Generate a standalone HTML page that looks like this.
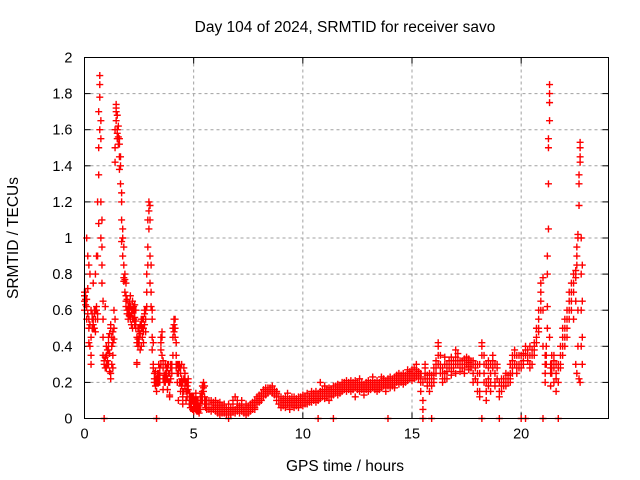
<!DOCTYPE html>
<html><head><meta charset="utf-8"><style>
body{margin:0;background:#fff}
svg{display:block;font-family:"Liberation Sans",sans-serif}
</style></head><body>
<svg id="chart" width="640" height="480" viewBox="0 0 640 480">
<rect width="640" height="480" fill="#fff"/>
<text x="345" y="32" font-size="15.5" text-anchor="middle">Day 104 of 2024, SRMTID for receiver savo</text>
<g id="grid"></g>
<g id="axes"></g>
<g id="marks"></g>
<rect x="84.5" y="57.5" width="524" height="361" fill="none" stroke="#000" stroke-width="1"/>
<text x="345" y="471" font-size="15.5" text-anchor="middle">GPS time / hours</text>
<text x="18" y="238" font-size="15.5" text-anchor="middle" transform="rotate(-90 18 238)">SRMTID / TECUs</text>
</svg>
<script>
const xTicks=[0,5,10,15,20];
const yTicks=[0,0.2,0.4,0.6,0.8,1,1.2,1.4,1.6,1.8,2];
const yTickLabels=["0","0.2","0.4","0.6","0.8","1","1.2","1.4","1.6","1.8","2"];
// rows: [hour, values...]
const points=[
[0.0,.68,.70,.65,.60],[0.05,.7,.66,.63],[0.1,.66,.62,1.0,.55],[0.15,.58,.72,.9],[0.2,.55,.85,.42,.50],[0.25,.4,.52,.8],[0.3,.35,.45,.30,.60],[0.35,.5,.55,.58],
[0.4,.52,.55,.75,.50],[0.45,.58,.6,.5],[0.5,.55,.60,.48,.80],[0.55,.6,.62,.9],[0.6,.58,.90,1.2,.55],[0.65,1.35,1.5,1.7,1.08],[0.7,1.85,1.9,1.78,1.6],[0.75,1.65,1.55,1.2,1.0],
[0.8,1.1,.95,.85,.75],[0.85,.65,.55,.45,.35],[0.9,.30,.32,0],[0.95,.34,.28,.62],[1.0,.30,.35,.28,.40],[1.05,.32,.38,.3],[1.1,.38,.42,.45,.30],[1.15,.36,.26,.47],[1.2,.22,.25,.50,.52],[1.25,.45,.3,.4],[1.3,.48,.42,.35,.28],[1.35,.5,.6,.44],
[1.4,1.42,.55,1.5,1.6],[1.45,1.7,1.74,1.65,1.72],[1.5,1.6,1.55,1.58,1.68],[1.55,1.56,1.52,1.62],[1.6,1.52,1.55,1.45,1.38],[1.65,1.3,1.4,1.45],
[1.7,1.2,1.25,1.1,.98],[1.75,1.05,1.0,.9],[1.8,.95,.85,.78,.76],[1.85,.77,.8,.7],[1.9,.75,.68,.62,.65],[1.95,.6,.66,.58],[2.0,.62,.58,.55,.6],[2.05,.6,.64,.57],[2.1,.68,.62,.57,.55],[2.15,.58,.6,.52],
[2.2,.55,.65,.6,.5],[2.25,.6,.62,.55],[2.3,.6,.63,.52,.56],[2.35,.5,.54,.6],[2.4,.45,.3,.31,.42],[2.45,.44,.5,.4],[2.5,.42,.5,.48,.45],[2.55,.47,.52,.38],[2.6,.52,.55,.5,.4],[2.65,.45,.5,.55],
[2.7,.5,.48,.42,.55],[2.75,.52,.6,.58],[2.8,.6,.55,.48],[2.85,.7,.8,.62],[2.9,.85,.95,1.1],[2.95,1.15,1.2,1.05],[3.0,1.18,1.1,.9,.75],[3.05,.85,.7,.62],[3.1,.6,.55,.45,.38],[3.15,.3,.28,.42],
[3.2,.25,.22,.2],[3.25,.22,.18,.26],[3.3,.2,.15,.22,.0],[3.35,.22,.25,.2],[3.4,.25,.3,.22,.2],[3.45,.2,.24,.28],[3.5,.3,.38,.42,.45],[3.55,.45,.48,.35],[3.6,.32,.28,.22,.16],[3.65,.2,.24,.22],
[3.7,.22,.2,.3,.25],[3.75,.22,.25,.28],[3.8,.3,.28,.22,.16],[3.85,.25,.3,.2],[3.9,.12,.13,.2,.25],[3.95,.28,.3,.22],[4.0,.3,.28,.25],[4.05,.35,.45,.5],[4.1,.48,.52,.55],[4.15,.55,.5,.45],
[4.2,.42,.35,.3,.28],[4.25,.3,.25,.2],[4.3,.3,.28,.25,.1],[4.35,.2,.28,.3],[4.4,.25,.2,.15,.28],[4.45,.3,.22,.18],[4.5,.2,.15,.12,.08],[4.55,.28,.22,.15],[4.6,.25,.2,.22,.18],[4.65,.15,.1,.2],
[4.7,.2,.18,.12,.15],[4.75,.22,.2,.16],[4.8,.12,.1,.08,.14],[4.85,.1,.12,.06],[4.9,.1,.08,.06,.12],[4.95,.12,.1,.05],[5.0,.1,.12,.06,.04],[5.05,.08,.1,.06],[5.1,.08,.14,.12,.05],[5.15,.1,.06,.04],
[5.2,.06,.04,.08,.1],[5.25,.03,.05,.07],[5.3,.05,.08,.1,.12],[5.35,.1,.12,.14],[5.4,.15,.18,.12,.1],[5.45,.2,.17,.15],[5.5,.18,.12,.1,.08],[5.55,.1,.08,.06],[5.6,.08,.06,.1,.05],[5.7,.05,.08,.1,.06],
[5.8,.08,.1,.06,.04],[5.9,.06,.05,.09],[6.0,.06,.04,.07,.1],[6.1,.05,.03,.08],[6.2,.04,.06,.09,.02],[6.3,.03,.05,.07],[6.4,.03,.04,.06,.08],[6.5,.04,.02,.06],[6.6,.05,.03,.08,0],[6.7,.06,.04,.02],
[6.8,.04,.06,.08,.1],[6.9,.05,.12,.03],[7.0,.06,.04,.08,.1],[7.1,.05,.07,.03],[7.2,.06,.04,.08,.1],[7.3,.05,.06,.03],[7.4,.04,.06,.08,.02],[7.5,.05,.03,.07],[7.6,.06,.04,.08,.05],[7.7,.07,.05,.09],
[7.8,.08,.06,.1,.05],[7.9,.1,.08,.12],[8.0,.11,.09,.13,.1],[8.1,.12,.14,.1],[8.2,.14,.12,.16,.13],[8.3,.15,.17,.13],[8.4,.16,.15,.17,.14],[8.5,.17,.15,.16],[8.6,.16,.18,.14,.15],[8.7,.15,.13,.16],
[8.8,.14,.12,.15,.1],[8.9,.12,.1,.08],[9.0,.1,.08,.12,.06],[9.1,.09,.07,.11],[9.2,.08,.1,.06,.12],[9.3,.1,.08,.14],[9.4,.07,.09,.11,.05],[9.5,.08,.1,.12],[9.6,.1,.08,.06,.12],[9.7,.09,.11,.07],
[9.8,.08,.1,.12,.06],[9.9,.1,.12,.08],[10.0,.09,.11,.07,.13],[10.1,.1,.08,.12],[10.2,.12,.1,.08,.14],[10.3,.1,.12,.09],[10.4,.11,.13,.09,.15],[10.5,.12,.1,.14],[10.6,.11,.13,.15,.09],[10.7,.12,.1,0,.14],
[10.8,.13,.11,.15,.2],[10.9,.14,.12,.16],[11.0,.13,.15,.11,.18],[11.1,.12,.16,.14],[11.2,.15,.13,.17,.1],[11.3,.14,.16,.12],[11.4,.15,.13,0,.18],[11.5,.16,.14,.18],[11.6,.17,.15,.19,.13],[11.7,.16,.18,.14],
[11.8,.17,.19,.15,.2],[11.9,.18,.16,.2],[12.0,.17,.19,.15,.21],[12.1,.18,.16,.2],[12.2,.19,.17,.21,.15],[12.3,.18,.2,.16],[12.4,.19,.17,.21,.12],[12.5,.18,.2,.16],[12.6,.17,.19,.15,.22],[12.7,.18,.16,.2],
[12.8,.17,.19,.15,.13],[12.9,.18,.2,.16],[13.0,.17,.19,.21,.15],[13.1,.18,.16,.2],[13.2,.19,.17,.21,.23],[13.3,.18,.2,.16],[13.4,.17,.19,.15,.21],[13.5,.18,.2,.16],[13.6,.19,.17,.21,.23],[13.7,.2,.18,.22],
[13.8,.19,.21,.17,.15],[13.9,.2,.18,0,.22],[14.0,.19,.21,.17,.23],[14.1,.2,.22,.18],[14.2,.21,.19,.23,.17],[14.3,.22,.2,.24],[14.4,.21,.23,.19,.25],[14.5,.22,.2,.24],[14.6,.23,.21,.25,.19],[14.7,.22,.24,.2],
[14.8,.23,.21,.25,.27],[14.9,.24,.22,.26],[15.0,.23,.25,.21,.27],[15.1,.24,.22,.28],[15.2,.25,.23,.27,.3],[15.3,.24,.26,.22],[15.4,.25,.23,.2,.15],[15.5,.2,.1,.05,0],[15.6,.22,.25,.28,.3],[15.7,.24,.2,.18],
[15.8,.22,.25,.2,.15],[15.9,.2,.18,0,.24],[16.0,.22,.25,.28,.2],[16.1,.25,.3,.32,.28],[16.2,.35,.4,.42,.3],[16.3,.3,.28,.25,.35],[16.4,.25,.28,.22,.2],[16.5,.22,.25,.3,.34],[16.6,.28,.3,.26,.22],[16.7,.3,.28,.32],
[16.8,.26,.3,.34,.24],[16.9,.3,.28,.32],[17.0,.3,.34,.38,.25],[17.1,.32,.3,.36],[17.2,.28,.32,.3,.26],[17.3,.3,.32,.28],[17.4,.3,.33,.28,.25],[17.5,.32,.3,.34],[17.6,.31,.33,.29,.27],[17.7,.3,.32,.28],
[17.8,.25,.3,.32,.2],[17.9,.28,.22,.3],[18.0,.2,.25,.15,.3],[18.1,.12,.15,.25,.3],[18.2,.35,.4,.42,0],[18.3,.3,.25,.2,.35],[18.4,.2,.15,.1,.3],[18.5,.22,.28,.32,.18],[18.6,.3,.25,.2,.15],[18.7,.32,.35,.28],
[18.8,.25,.3,.2,.18],[18.9,.22,.28,.3],[19.0,.15,.12,0,.2],[19.1,.18,.2,.22,.15],[19.2,.2,.22,.18],[19.3,.22,.25,.2,.18],[19.4,.2,.22,.24],[19.5,.22,.25,.3,.2],[19.6,.28,.32,.35,.25],[19.7,.3,.35,.38],
[19.8,.3,.28,.25,.35],[19.9,.35,.3,.28],[20.0,.3,.35,0,.28],[20.1,.32,.36,.3],[20.2,.35,.4,.38,0],[20.3,.32,.38,.35],[20.4,.4,.35,.3,.28],[20.5,.3,.35,.38],[20.6,.4,.42,.38,.35],[20.7,.45,.5,.42],
[20.8,.55,.6,.5,.48],[20.9,.65,.7,.75,.6],[21.0,.78,.6,.4,0],[21.1,.3,.35,.2,.25],[21.15,.3,.35,.4],[21.2,.5,.62,.8,.9],[21.25,1.05,1.3,1.5,1.55],[21.3,1.65,1.75,1.8,1.85,.45],[21.35,.3,.28,.25,.18],[21.4,.35,.3,.28,.25],
[21.5,.32,.28,.35,.2],[21.6,.3,.25,.22,.15],[21.7,.2,.28,.3,0],[21.8,.35,.4,.3,.28],[21.9,.4,.45,.35,.5],[22.0,.45,.5,.55,.4],[22.1,.5,.55,.6,.45],[22.2,.6,.65,.7,.55],[22.3,.65,.7,.75,.6],[22.4,.7,.75,.8,.55],
[22.5,.78,.82,.65,.3],[22.55,.85,.9,.95,.25],[22.6,1.0,1.02,.6,.4],[22.65,1.18,1.3,1.35,.22],[22.7,1.42,1.45,1.5,1.53,.2],[22.75,.4,.6,.8,1.0],[22.8,.3,.45,.65,.85]
];
const xMin=0,xMax=24,yMin=0,yMax=2;
const L=84.5,R=608.5,T=57.5,B=418.5;
function sx(h){return L+(h-xMin)/(xMax-xMin)*(R-L);}
function sy(v){return B-(v-yMin)/(yMax-yMin)*(B-T);}
const NS='http://www.w3.org/2000/svg';
const grid=document.getElementById('grid'),axes=document.getElementById('axes'),marks=document.getElementById('marks');
function mk(tag,at,parent){const e=document.createElementNS(NS,tag);for(const k in at)e.setAttribute(k,at[k]);parent.appendChild(e);return e;}
xTicks.forEach(t=>{const x=sx(t);
 if(t>xMin){const g=mk('line',{x1:x,x2:x,y1:T,y2:B,stroke:'#a0a0a0','stroke-dasharray':'3,3'},grid);
 
 }
 mk('line',{x1:x,x2:x,y1:B,y2:B-6,stroke:'#000'},axes);mk('line',{x1:x,x2:x,y1:T,y2:T+6,stroke:'#000'},axes);
 const tx=mk('text',{x:x,y:B+20,'font-size':14.5,'text-anchor':'middle'},axes);tx.textContent=String(t);
 
 });
yTicks.forEach((t,i)=>{const y=sy(t);
 if(t>yMin&&t<yMax){const g=mk('line',{x1:L,x2:R,y1:y,y2:y,stroke:'#a0a0a0','stroke-dasharray':'3,3'},grid);
 
 }
 mk('line',{x1:L,x2:L+6,y1:y,y2:y,stroke:'#000'},axes);mk('line',{x1:R,x2:R-6,y1:y,y2:y,stroke:'#000'},axes);
 const tx=mk('text',{x:L-12,y:y+5,'font-size':14.5,'text-anchor':'end'},axes);tx.textContent=yTickLabels[i];
 
 });
let d='';
points.forEach(row=>{const x=sx(row[0]);for(let i=1;i<row.length;i++){const y=sy(row[i]);
 d+='M'+(x-3.5)+' '+y+'h7M'+x+' '+(y-3.5)+'v7';}});
const p=mk('path',{d:d,stroke:'#ff0000','stroke-width':1.4,fill:'none'},marks);


</script>
</body></html>
